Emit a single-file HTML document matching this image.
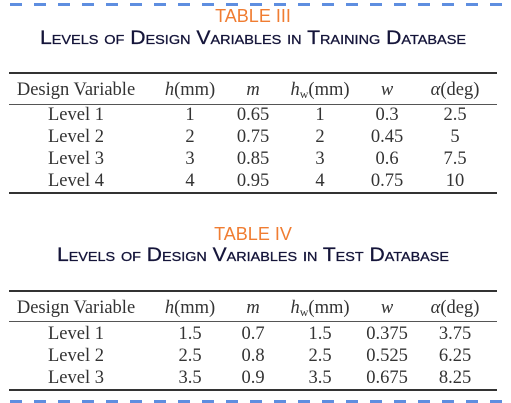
<!DOCTYPE html>
<html><head><meta charset="utf-8"><style>
html,body{margin:0;padding:0;background:#fff;}
svg{display:block;}
.cap{font-family:"Liberation Sans",sans-serif;font-variant:small-caps;font-size:19px;fill:#15153a;stroke:#15153a;stroke-width:0.3;}
.tt{font-family:"Liberation Sans",sans-serif;font-size:18px;fill:#f07d32;}
.c{font-family:"Liberation Serif",serif;font-size:18.5px;fill:#333;}
</style></head><body>
<svg id="s" width="511" height="403" viewBox="0 0 511 403" xmlns="http://www.w3.org/2000/svg"></svg>
<script>
const headers=["Design Variable","h(mm)","m","hw(mm)","w","α(deg)"];
const trainLevels=["Level 1","Level 2","Level 3","Level 4"];
const trainH=["1","2","3","4"];
const trainM=["0.65","0.75","0.85","0.95"];
const trainHw=["1","2","3","4"];
const trainW=["0.3","0.45","0.6","0.75"];
const trainA=["2.5","5","7.5","10"];
const testLevels=["Level 1","Level 2","Level 3"];
const testH=["1.5","2.5","3.5"];
const testM=["0.7","0.8","0.9"];
const testHw=["1.5","2.5","3.5"];
const testW=["0.375","0.525","0.675"];
const testA=["3.75","6.25","8.25"];

const NS="http://www.w3.org/2000/svg";
const svg=document.getElementById('s');
const colX=[76,190,253,320,387,455];
function mk(tag,attrs,parent){const e=document.createElementNS(NS,tag);for(const k in attrs)e.setAttribute(k,attrs[k]);(parent||svg).appendChild(e);return e;}
function txt(x,y,s,cls,parent){const t=mk('text',{x:x,y:y,'text-anchor':'middle',class:cls},parent);t.textContent=s;return t;}
function dashes(y,name){const g=mk('g',{});


for(let x=10;x<505;x+=24)mk('rect',{x:x,y:y,width:12,height:3,fill:'#5e8ee0'},g);}
function header(g,y){
  txt(colX[0],y,headers[0],'c',g);
  let t=txt(colX[1],y,'','c',g);t.innerHTML='<tspan font-style="italic">h</tspan>(mm)';
  t=txt(colX[2],y,'','c',g);t.innerHTML='<tspan font-style="italic">m</tspan>';
  t=txt(colX[3],y,'','c',g);t.innerHTML='<tspan font-style="italic">h</tspan><tspan font-size="12" dy="3">w</tspan><tspan dy="-3">(mm)</tspan>';
  t=txt(colX[4],y,'','c',g);t.innerHTML='<tspan font-style="italic">w</tspan>';
  t=txt(colX[5],y,'','c',g);t.innerHTML='<tspan font-style="italic">α</tspan>(deg)';
}
function table(name,title,sub,subLen,ty,sy,top,hb,hr,rows0,pitch,bot,cols){
  const g=mk('g',{});
  
  
  const t1=txt(253,ty,title,'tt',g);
  
  
  const t2=txt(253,sy,sub,'cap',g);
  t2.setAttribute('textLength',subLen);t2.setAttribute('lengthAdjust','spacingAndGlyphs');
  
  
  mk('rect',{x:9,y:top,width:488,height:2,fill:'#333'},g);
  header(g,hb);
  mk('rect',{x:9,y:hr,width:488,height:1,fill:'#555'},g);
  cols[0].forEach((_,i)=>{
    const r=mk('g',{},g);
    
    
    cols.forEach((c,j)=>txt(colX[j],rows0+i*pitch,c[i],'c',r));
  });
  mk('rect',{x:9,y:bot,width:488,height:2,fill:'#333'},g);
}
dashes(3,'top-dashed-border');
table('training-table','TABLE III','Levels of Design Variables in Training Database',426,22,44,72,95,104,120,22,192,
 [trainLevels,trainH,trainM,trainHw,trainW,trainA]);
table('test-table','TABLE IV','Levels of Design Variables in Test Database',392,240,261,290,313,321,339,22,389,
 [testLevels,testH,testM,testHw,testW,testA]);
dashes(400,'bottom-dashed-border');
</script>
</body></html>
